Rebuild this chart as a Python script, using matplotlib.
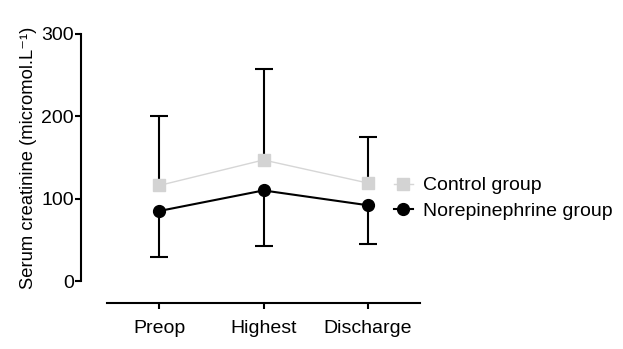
import matplotlib.pyplot as plt
import numpy as np

plt.rcParams['font.family'] = ['Liberation Sans', 'DejaVu Sans']

categories = ['Preop', 'Highest', 'Discharge']
control_mean = np.array([116, 147, 119])
control_upper_err = np.array([84, 111, 56])
nor_mean = np.array([85, 110, 92])
nor_lower_err = np.array([56, 68, 47])

x = np.arange(len(categories))

fig = plt.figure(figsize=(6.23, 3.49), dpi=100)
ax = fig.add_axes([107 / 623, 1 - 281 / 349, (420 - 107) / 623, (281 - 34) / 349])

# one-sided error bars: up for control, down for norepinephrine
ctrl_top = control_mean + control_upper_err
nor_bot = nor_mean - nor_lower_err
ax.vlines(x, control_mean, ctrl_top, color='black', lw=1.5, zorder=2)
ax.vlines(x, nor_bot, nor_mean, color='black', lw=1.5, zorder=2)
ax.plot(x, ctrl_top, ls='none', marker='_', ms=13, mew=1.5, color='black', zorder=2)
ax.plot(x, nor_bot, ls='none', marker='_', ms=13, mew=1.5, color='black', zorder=2)

ax.plot(x, control_mean, color='#d6d6d6', lw=1, marker='s', ms=8.5,
        mfc='#d3d3d3', mec='#d3d3d3', label='Control group', zorder=3)
ax.plot(x, nor_mean, color='black', lw=1.5, marker='o', ms=8.5,
        label='Norepinephrine group', zorder=4)

ax.set_xlim(-0.5, 2.5)
ax.set_ylim(0, 300)
ax.set_xticks(x)
ax.set_xticklabels(categories)
ax.set_yticks([0, 100, 200, 300])
ax.tick_params(axis='y', labelsize=14, width=1.5, length=4, pad=1)
ax.tick_params(axis='x', labelsize=14, width=1.5, length=4, pad=8)
for s in ['top', 'right']:
    ax.spines[s].set_visible(False)
ax.spines['left'].set_position(('outward', 19))
ax.spines['bottom'].set_position(('outward', 16))
ax.spines['left'].set_linewidth(1.5)
ax.spines['bottom'].set_linewidth(1.5)
ax.set_ylabel('Serum creatinine (micromol.L\u207b\u00b9)', fontsize=13.2, labelpad=3)

ax.legend(loc='center left', bbox_to_anchor=(0.86, 0.335), frameon=False,
          fontsize=14, handlelength=1.0, handletextpad=0.5, labelspacing=0.4)

fig.savefig('out.png', dpi=100)
